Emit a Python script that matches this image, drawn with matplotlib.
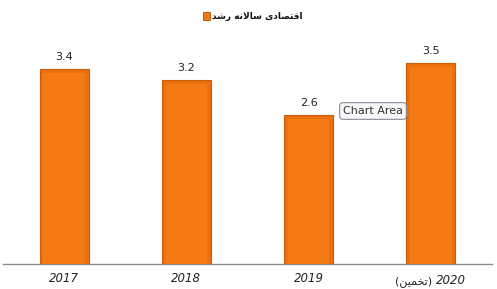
import matplotlib
matplotlib.use("Agg")
import matplotlib.pyplot as plt
from matplotlib.patches import Rectangle

# Data
categories = ["2017", "2018", "2019", "2020"]
estimate_note = "(" + "\uFEE6\uFEF4\uFEE4\uFEA8\uFE97" + ")"   # (تخمین) in visual order
values = [3.4, 3.2, 2.6, 3.5]
# رشد سالانه اقتصادی, words laid out as in the reference
series_name = "\uFEAA\uFEB7\uFEAD \uFEEA\uFEE7\uFEFB\uFE8E\uFEB3 \uFEEF\uFEA9\uFE8E\uFEBC\uFE98\uFED7\uFE8D"

plt.rcParams['font.family'] = ['DejaVu Sans']

fig = plt.figure(figsize=(4.97, 2.89), dpi=100)
ax = fig.add_axes([3/497, 1-264/289, 489/497, 230/289])

x = list(range(len(values)))
ax.bar(x, values, width=0.4, color='#EC700E', edgecolor='#C95C06', linewidth=0.8,
       label=series_name, zorder=2)
# inner face for a bevel look
ax.bar(x, [v - 0.07 for v in values], width=0.34, color='#F47A14', linewidth=0, zorder=3)

for xi, v in zip(x, values):
    ax.annotate(f"{v}", (xi, v), xytext=(0, 5), textcoords='offset points',
                ha='center', va='bottom', fontsize=8, color='#222222')

ax.set_xlim(-0.5, 3.5)
ax.set_ylim(0, 4)
ax.set_xticks(x)
labels = categories[:3] + [""]
ax.set_xticklabels(labels, fontstyle='italic', fontsize=8.5, color='#222222')
ax.tick_params(axis='x', length=0, pad=6)
ax.set_yticks([])
for s in ['left', 'right', 'top']:
    ax.spines[s].set_visible(False)
ax.spines['bottom'].set_color('#8c8c8c')
ax.spines['bottom'].set_linewidth(1.0)

# last category label: italic year + Persian note (regular, the italic face has no Arabic)
ax.annotate(categories[3], (3, 0), xycoords=('data', 'axes fraction'), xytext=(4.0, -12),
            textcoords='offset points', ha='left', va='center', fontsize=8.5,
            fontstyle='italic', color='#222222')
ax.annotate(estimate_note, (3, 0), xycoords=('data', 'axes fraction'), xytext=(0.8, -12.5),
            textcoords='offset points', ha='right', va='center', fontsize=8,
            color='#222222')

# title-like legend
fig.text(212/497, 1-16/289, series_name, ha='left', va='center', fontsize=6.5,
         fontweight='bold', color='#111111')
fig.patches.append(Rectangle((203/497, 1-19.5/289), 7/497, 7/289, transform=fig.transFigure,
                             fc='#F07813', ec='#B85505', lw=0.6, figure=fig))

# "Chart Area" tooltip
fig.text(373/497, 1-111/289, "Chart Area", ha='center', va='center',
         fontsize=8, color='#333333',
         bbox=dict(boxstyle='round,pad=0.3,rounding_size=0.3', fc='#F8F8FA', ec='#8a8a99', lw=0.8),
         zorder=5)

fig.savefig("out.png", dpi=100)
